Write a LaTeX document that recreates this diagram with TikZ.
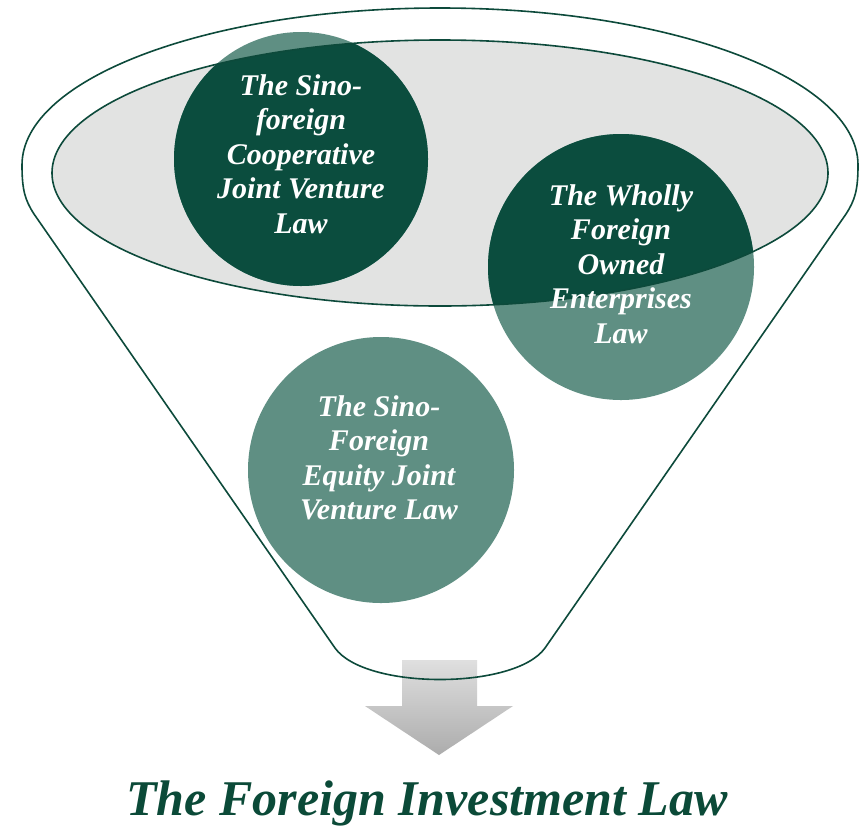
\documentclass[tikz,border=0pt]{standalone}
\usepackage{fontspec}
\setmainfont{Liberation Serif}
\definecolor{dkgreen}{HTML}{0B4D3E}
\definecolor{ltgreen}{HTML}{5F8F83}
\definecolor{linegreen}{HTML}{0D4A3B}
\definecolor{ellgrey}{HTML}{E2E3E2}
\definecolor{titlegreen}{HTML}{0B4A38}
\tikzset{
  funnelline/.style={draw=linegreen, line width=1.6pt, line join=round},
  circtext/.style={text=white, align=center, inner sep=0pt,
    font=\fontsize{30}{34.5}\selectfont\bfseries\itshape},
  titletext/.style={text=titlegreen, inner sep=0pt,
    font=\fontsize{50}{60}\selectfont\bfseries\itshape},
}
\begin{document}
\begin{tikzpicture}[x=1pt,y=-1pt]
\useasboundingbox (0,0) rectangle (861,828);
\fill[white] (0,0) rectangle (861,828);
% coordinates
\coordinate (ec) at (440,173);
\coordinate (c1) at (301,159);
\coordinate (c2) at (621,267);
\coordinate (c3) at (381,470);
% inner ellipse fill
\fill[ellgrey] (ec) ellipse [x radius=388, y radius=133];
% circles, light (outside the inner ellipse)
\fill[ltgreen] (c1) circle [radius=127];
\fill[ltgreen] (c2) circle [radius=133];
\fill[ltgreen] (c3) circle [radius=133];
% circles, dark (inside the inner ellipse)
\begin{scope}
  \clip (ec) ellipse [x radius=388, y radius=133];
  \fill[dkgreen] (c1) circle [radius=127];
  \fill[dkgreen] (c2) circle [radius=133];
\end{scope}
% arrow
\shade[top color=gray!25, bottom color=gray!65]
  (402,660) -- (477,660) -- (477,706) -- (513,706) -- (439,755)
  -- (365,706) -- (402,706) -- cycle;
% funnel outline
\path[funnelline]
  (22,165) .. controls (22,78.3) and (209.1,8) .. (440,8)
  .. controls (670.9,8) and (858,78.3) .. (858,165)
  .. controls (858,190) and (855,200) .. (846,214)
  -- (545,648)
  .. controls (515,690) and (365,690) .. (335,648)
  -- (34,214)
  .. controls (25,200) and (22,190) .. (22,165) -- cycle;
\draw[draw=linegreen, line width=1.6pt] (ec) ellipse [x radius=388, y radius=133];
% texts
\node[circtext] (t1) at (301,154) {The Sino-\\foreign\\Cooperative\\Joint Venture\\Law};
\node[circtext] (t2) at (621,264) {The Wholly\\Foreign\\Owned\\Enterprises\\Law};
\node[circtext] (t3) at (379,458) {The Sino-\\Foreign\\Equity Joint\\Venture Law};
\node[titletext, anchor=base] (title) at (427,815) {The Foreign Investment Law};
\end{tikzpicture}
\end{document}
